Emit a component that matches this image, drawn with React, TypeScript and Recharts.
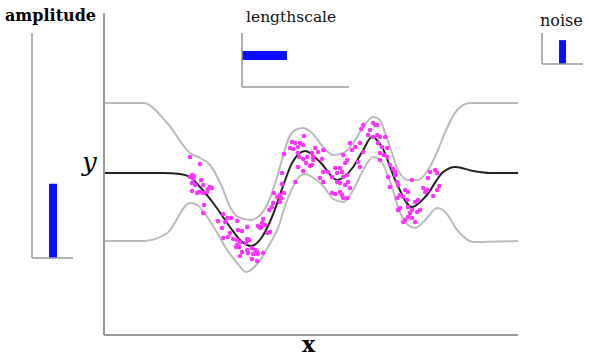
import {
  ComposedChart,
  Line,
  Scatter,
  XAxis,
  YAxis,
  BarChart,
  Bar,
} from "recharts";

// posterior mean
const meanX = [0, 1.48, 1.9, 2.15, 2.4, 2.73, 3.15, 3.4, 3.68, 3.95, 4.2, 4.53, 4.7, 5.03, 5.4, 5.83, 6.23, 6.48, 6.7, 6.95, 7.28, 7.7, 8.03, 8.48, 8.78, 9.23, 9.65, 10.35];
const meanY = [0, 0, -0.02, -0.08, -0.28, -0.6, -1.08, -1.34, -1.46, -1.28, -0.88, -0.14, 0.2, 0.44, 0.22, -0.14, 0.12, 0.46, 0.72, 0.52, -0.14, -0.68, -0.48, 0.02, 0.12, 0.04, 0, 0];

// upper / lower confidence bounds
const upperX = [0, 0.98, 1.58, 2.15, 2.4, 2.65, 2.95, 3.15, 3.35, 3.65, 3.85, 4.1, 4.28, 4.45, 4.6, 4.78, 4.98, 5.2, 5.48, 5.73, 5.98, 6.23, 6.48, 6.73, 6.9, 7.03, 7.2, 7.35, 7.6, 7.85, 8.1, 8.35, 8.53, 8.83, 9.15, 10.35];
const upperY = [1.4, 1.4, 1.0, 0.4, 0.3, 0.16, -0.28, -0.68, -0.88, -0.94, -0.88, -0.6, -0.2, 0.26, 0.66, 0.86, 0.9, 0.8, 0.52, 0.36, 0.4, 0.6, 0.92, 1.12, 1.06, 0.8, 0.4, 0.06, -0.14, -0.14, 0.06, 0.46, 0.82, 1.26, 1.4, 1.4];

const lowerX = [0, 0.98, 1.58, 2.15, 2.33, 2.58, 2.83, 3.08, 3.33, 3.55, 3.85, 4.1, 4.33, 4.58, 4.9, 5.03, 5.2, 5.48, 5.73, 5.98, 6.23, 6.48, 6.73, 6.9, 7.2, 7.35, 7.6, 7.78, 8.03, 8.33, 8.53, 8.83, 9.23, 10.35];
const lowerY = [-1.36, -1.36, -1.2, -0.6, -0.64, -0.88, -1.2, -1.54, -1.8, -1.98, -1.8, -1.48, -1.14, -0.54, -0.06, -0.02, -0.08, -0.26, -0.52, -0.58, -0.34, 0.06, 0.32, 0.26, -0.28, -0.68, -1.04, -1.1, -0.94, -0.7, -0.78, -1.14, -1.38, -1.36];

// observations
const obsX = [
  2.15, 2.4, 2.2, 2.25, 2.15, 2.23, 2.43, 2.2, 2.28, 2.48, 2.65, 2.6, 2.7, 2.2, 2.33, 2.38, 2.48, 2.58, 2.5, 2.48,
  2.98, 3.08, 3.18, 2.85, 3.03, 3.33, 2.95, 3.35, 3.45, 3.58, 3.15, 3.1, 2.98, 3.23, 3.33, 3.4, 3.33, 3.38, 3.55, 3.58,
  3.45, 3.4, 3.58, 3.6, 3.3,
  5.0, 4.7, 4.78, 4.9, 4.98, 4.85, 4.65, 4.73, 4.5, 4.85, 4.88, 5.05, 5.08, 4.98, 4.85, 4.98, 5.15, 4.45, 4.78, 4.45,
  4.5, 4.25, 4.4, 4.33, 4.43, 4.4, 4.23, 4.2, 4.13, 3.98, 3.95, 3.93, 4.03, 3.85, 3.9, 4.08, 4.15, 3.63, 3.7, 3.78,
  3.83, 3.73, 3.85, 3.7, 3.83, 3.98,
  6.48, 6.43, 6.73, 6.78, 6.65, 6.6, 6.73, 6.28, 6.2, 6.4, 6.15, 6.48, 6.9, 6.85, 5.28, 5.35, 5.48, 5.2, 5.23, 5.45,
  5.2, 5.98, 6.03, 6.08, 6.35, 6.4, 5.78, 5.9, 5.95, 5.83, 5.98, 5.7, 5.6, 5.48, 5.4, 5.48, 6.08, 6.1, 5.83, 5.9,
  6.03, 6.15, 5.7, 5.78, 5.9, 5.95, 5.98, 6.08, 5.23,
  6.83, 6.83, 7.03, 6.95, 7.08, 6.9, 7.0, 6.9, 7.08, 7.15, 7.23, 7.28, 7.1, 7.28, 7.33, 7.35, 7.15, 7.53, 7.6, 7.4,
  7.48, 7.33, 7.7, 8.15, 8.28, 8.33, 8.1, 7.98, 8.03, 8.08, 8.33, 8.38, 8.23, 7.78, 7.85, 7.58, 7.6, 7.7, 7.65, 7.83,
  7.9, 7.4, 7.35, 7.6, 7.7, 7.53, 7.48, 7.78,
];
const obsY = [
  0.32, 0.18, -0.04, -0.06, -0.08, -0.12, -0.14, -0.2, -0.24, -0.24, -0.28, -0.32, -0.3, -0.36, -0.4, -0.38, -0.4, -0.38, -0.64, -0.8,
  -0.82, -0.9, -0.9, -0.96, -0.98, -0.96, -1.1, -1.14, -1.16, -1.08, -1.2, -1.28, -1.3, -1.32, -1.34, -1.38, -1.44, -1.48, -1.4, -1.32,
  -1.58, -1.66, -1.54, -1.6, -1.48,
  0.74, 0.62, 0.6, 0.6, 0.56, 0.52, 0.5, 0.48, 0.38, 0.4, 0.32, 0.2, 0.32, 0.28, 0.12, 0.04, 0.14, 0, -0.18, -0.22,
  -0.4, -0.4, -0.44, -0.48, -0.5, -0.58, -0.6, -0.68, -0.74, -0.92, -1.0, -1.08, -1.04, -1.06, -1.1, -1.2, -1.18, -1.34, -1.5, -1.54,
  -1.58, -1.62, -1.62, -1.72, -1.76, -1.6,
  0.96, 0.88, 1.0, 0.96, 0.86, 0.76, 0.72, 0.52, 0.46, 0.6, 0.6, 0.42, 0.72, 0.6, 0.5, 0.42, 0.46, 0.4, 0.26, 0.28,
  0.16, 0.36, 0.2, 0.26, 0.22, 0.12, 0.1, 0.1, 0.02, 0, -0.08, -0.08, 0.02, 0.02, -0.1, -0.18, -0.04, -0.18, -0.18, -0.2,
  -0.24, -0.3, -0.4, -0.42, -0.38, -0.44, -0.5, -0.5, 0.32,
  0.96, 0.76, 0.72, 0.52, 0.5, 0.4, 0.36, 0.26, 0.32, 0.16, 0.08, 0.02, -0.08, -0.04, -0.18, -0.24, -0.28, -0.34, -0.38, -0.44,
  -0.48, -0.5, -0.14, 0.02, 0.06, 0, -0.1, -0.3, -0.38, -0.34, -0.34, -0.26, -0.46, -0.58, -0.54, -0.54, -0.68, -0.74, -0.8, -0.78,
  -0.74, -0.7, -0.74, -0.88, -0.9, -0.94, -0.98, -0.98,
];

// hyperparameter insets
const amplitude = [{ name: "amplitude", value: 0.33 }];
const lengthscale = [{ name: "lengthscale", value: 0.42 }];
const noise = [{ name: "noise", value: 0.77 }];

const zip = (xs: number[], ys: number[]) => xs.map((x, i) => ({ x, y: ys[i] }));

const BLUE = "#0d0dff";
const AXIS = "#999";
const SERIF = "'DejaVu Serif', serif";

const Dot = (p: any) => <circle cx={p.cx} cy={p.cy} r={2.3} fill="#ff33ff" />;

export default function App() {
  const mean = zip(meanX, meanY);
  const upper = zip(upperX, upperY);
  const lower = zip(lowerX, lowerY);
  const obs = zip(obsX, obsY);

  return (
    <div style={{ position: "absolute", left: 0, top: 0, width: 589, height: 357, background: "#fff" }}>
      <div style={{ position: "absolute", left: 0, top: 0 }}>
        <ComposedChart width={589} height={357} margin={{ top: 13, left: 103, right: 71, bottom: 21 }}>
          <XAxis
            type="number"
            dataKey="x"
            domain={[0, 10.35]}
            tick={false}
            tickLine={false}
            height={1}
            axisLine={{ stroke: AXIS, strokeWidth: 2 }}
          />
          <YAxis
            type="number"
            dataKey="y"
            domain={[-3.24, 3.2]}
            tick={false}
            tickLine={false}
            width={1}
            axisLine={{ stroke: AXIS, strokeWidth: 2 }}
          />
          <Line data={upper} dataKey="y" type="monotone" stroke="#bbb" strokeWidth={2} dot={false} isAnimationActive={false} />
          <Line data={lower} dataKey="y" type="monotone" stroke="#bbb" strokeWidth={2} dot={false} isAnimationActive={false} />
          <Scatter data={obs} dataKey="y" shape={Dot} isAnimationActive={false} />
          <Line data={mean} dataKey="y" type="monotone" stroke="#222" strokeWidth={2} dot={false} isAnimationActive={false} />
        </ComposedChart>
      </div>

      <div style={{ position: "absolute", left: 0, top: 0 }}>
        <BarChart width={100} height={270} data={amplitude} margin={{ top: 33, left: 31, right: 27, bottom: 11 }}>
          <XAxis dataKey="name" tick={false} tickLine={false} height={1} axisLine={{ stroke: AXIS, strokeWidth: 1.5 }} />
          <YAxis type="number" domain={[0, 1]} tick={false} tickLine={false} width={1} axisLine={{ stroke: AXIS, strokeWidth: 1.5 }} />
          <Bar dataKey="value" fill={BLUE} barSize={8} isAnimationActive={false} />
        </BarChart>
      </div>

      <div style={{ position: "absolute", left: 200, top: 0 }}>
        <BarChart width={170} height={100} data={lengthscale} layout="vertical" margin={{ top: 33, left: 41, right: 21, bottom: 12 }}>
          <XAxis type="number" domain={[0, 1]} tick={false} tickLine={false} height={1} axisLine={{ stroke: AXIS, strokeWidth: 1.5 }} />
          <YAxis type="category" dataKey="name" tick={false} tickLine={false} width={1} padding={{ top: 0, bottom: 9 }} axisLine={{ stroke: AXIS, strokeWidth: 1.5 }} />
          <Bar dataKey="value" fill={BLUE} barSize={9} isAnimationActive={false} />
        </BarChart>
      </div>

      <div style={{ position: "absolute", left: 500, top: 0 }}>
        <BarChart width={89} height={80} data={noise} margin={{ top: 33, left: 41, right: 6, bottom: 15 }}>
          <XAxis dataKey="name" tick={false} tickLine={false} height={1} axisLine={{ stroke: AXIS, strokeWidth: 1.5 }} />
          <YAxis type="number" domain={[0, 1]} tick={false} tickLine={false} width={1} axisLine={{ stroke: AXIS, strokeWidth: 1.5 }} />
          <Bar dataKey="value" fill={BLUE} barSize={7} isAnimationActive={false} />
        </BarChart>
      </div>

      <svg width={589} height={357} style={{ position: "absolute", left: 0, top: 0, pointerEvents: "none" }}>
        <text x={5} y={21} fontFamily={SERIF} fontWeight="bold" fontSize={16} fill="#000">amplitude</text>
        <text x={246} y={22} fontFamily={SERIF} fontSize={15.5} fill="#111">lengthscale</text>
        <text x={540} y={26} fontFamily={SERIF} fontSize={16} fill="#111">noise</text>
        <text x={82} y={171} fontFamily={SERIF} fontStyle="italic" fontSize={26} fill="#000">y</text>
        <text x={302} y={352} fontFamily={SERIF} fontWeight="bold" fontSize={22} fill="#000">x</text>
      </svg>
    </div>
  );
}
